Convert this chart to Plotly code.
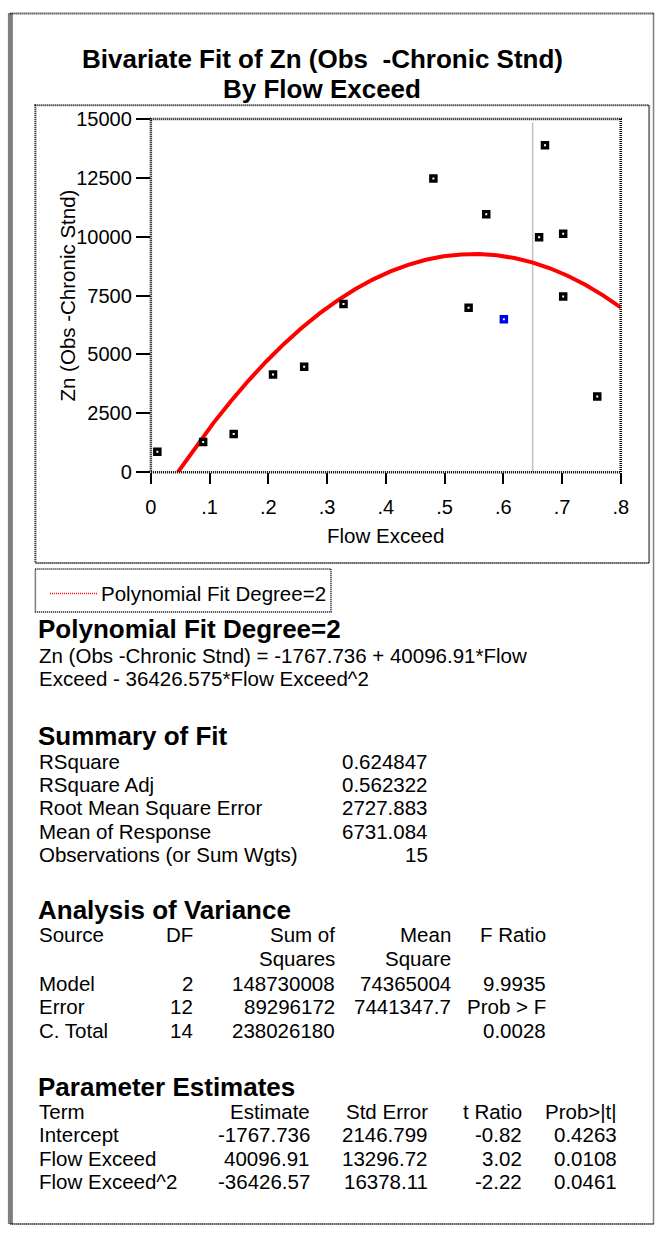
import numpy as np
import plotly.graph_objects as go

# ---------------- data ----------------
flow_exceed = [0.011, 0.089, 0.141, 0.208, 0.261, 0.328, 0.481, 0.541,
               0.571, 0.601, 0.661, 0.671, 0.702, 0.702, 0.760]
zn_obs = [870, 1280, 1620, 4150, 4480, 7140, 12470, 6980,
          10960, 6490, 9980, 13890, 10130, 7460, 3210]
highlight_index = 9          # the blue (selected) point
ref_line_x = 0.65            # grey vertical reference line

x_ticks = [0, 0.1, 0.2, 0.3, 0.4, 0.5, 0.6, 0.7, 0.8]
x_tick_labels = ["0", ".1", ".2", ".3", ".4", ".5", ".6", ".7", ".8"]
y_ticks = [0, 2500, 5000, 7500, 10000, 12500, 15000]
y_tick_labels = ["0", "2500", "5000", "7500", "10000", "12500", "15000"]

# polynomial fit coefficients (Parameter Estimates)
fit_coef = [-1767.736, 40096.91, -36426.575]
fit_x_start = 0.046
fit_x_end = 0.80

title_lines = ["Bivariate Fit of Zn (Obs\u00a0\u00a0-Chronic Stnd)", "By Flow Exceed"]
x_title = "Flow Exceed"
y_title = "Zn (Obs -Chronic Stnd)"
legend_label = "Polynomial Fit Degree=2"

poly_heading = "Polynomial Fit Degree=2"
poly_equation = ["Zn (Obs -Chronic Stnd) = -1767.736 + 40096.91*Flow",
                 "Exceed - 36426.575*Flow Exceed^2"]

summary_heading = "Summary of Fit"
summary_labels = ["RSquare", "RSquare Adj", "Root Mean Square Error",
                  "Mean of Response", "Observations (or Sum Wgts)"]
summary_values = ["0.624847", "0.562322", "2727.883", "6731.084", "15"]

anova_heading = "Analysis of Variance"
anova_header = [["Source", "DF", "Sum of", "Mean", "F Ratio"],
                ["", "", "Squares", "Square", ""]]
anova_rows = [["Model", "2", "148730008", "74365004", "9.9935"],
              ["Error", "12", "89296172", "7441347.7", "Prob > F"],
              ["C. Total", "14", "238026180", "", "0.0028"]]

param_heading = "Parameter Estimates"
param_header = ["Term", "Estimate", "Std Error", "t Ratio", "Prob>|t|"]
param_rows = [["Intercept", "-1767.736", "2146.799", "-0.82", "0.4263"],
              ["Flow Exceed", "40096.91", "13296.72", "3.02", "0.0108"],
              ["Flow Exceed^2", "-36426.57", "16378.11", "-2.22", "0.0461"]]

# ---------------- layout helpers ----------------
W, H = 663, 1236
FONT = "Liberation Sans, Arial, Helvetica, sans-serif"
REG = 20.5
BOLD = 26


def px(x):
    return x / W


def py(y):
    return 1 - y / H


annotations = []


def text(x, y, s, size=REG, anchor="left", bold=False, angle=0):
    annotations.append(dict(
        x=px(x), y=py(y), xref="paper", yref="paper", text=s, showarrow=False,
        xanchor=anchor, yanchor="middle", textangle=angle,
        font=dict(family=FONT, size=size, color="black",
                  weight="bold" if bold else "normal")))


# ---------------- traces ----------------
fit_x = np.linspace(fit_x_start, fit_x_end, 26)
fit_y = fit_coef[0] + fit_coef[1] * fit_x + fit_coef[2] * fit_x ** 2

colors = ["#0000ee" if i == highlight_index else "black" for i in range(len(flow_exceed))]

fig = go.Figure()
fig.add_trace(go.Scatter(x=fit_x, y=fit_y, mode="lines", name=legend_label,
                         line=dict(color="#ff0000", width=4), showlegend=False))
fig.add_trace(go.Scatter(x=flow_exceed, y=zn_obs, mode="markers", showlegend=False,
                         marker=dict(symbol="square", size=8.5, color=colors,
                                     line=dict(width=0))))
fig.add_trace(go.Scatter(x=flow_exceed, y=zn_obs, mode="markers", showlegend=False,
                         marker=dict(symbol="square", size=2, color="white",
                                     line=dict(width=0))))

# ---------------- plot geometry ----------------
plot_left, plot_right, plot_top, plot_bottom = 148, 628, 110, 469.5

axis_common = dict(showgrid=False, zeroline=False, showline=False, ticks="outside",
                   tickcolor="black", tickwidth=2,
                   tickfont=dict(family=FONT, size=20, color="black"))

fig.update_xaxes(range=[0, 0.8], domain=[px(plot_left), px(plot_right)],
                 tickvals=x_ticks, ticktext=x_tick_labels, ticklen=11,
                 ticklabelstandoff=6, **axis_common)
fig.update_yaxes(range=[0, 15000], domain=[py(plot_bottom), py(plot_top)],
                 tickvals=y_ticks, ticktext=y_tick_labels, ticklen=14, **axis_common)

dot = "1px,1px"
shapes = [
    # outer report border
    dict(type="line", xref="paper", yref="paper", x0=px(4.5), x1=px(4.5), y0=py(2.5), y1=py(1235),
         line=dict(color="black", width=5, dash=dot)),
    dict(type="line", xref="paper", yref="paper", x0=px(4.5), x1=px(662), y0=py(2.5), y1=py(2.5),
         line=dict(color="black", width=2, dash=dot)),
    dict(type="line", xref="paper", yref="paper", x0=px(4.5), x1=px(662), y0=py(1235), y1=py(1235),
         line=dict(color="black", width=2, dash=dot)),
    dict(type="line", xref="paper", yref="paper", x0=px(661.5), x1=px(661.5), y0=py(2.5), y1=py(1235),
         line=dict(color="black", width=1.5, dash=dot)),
    # plot box
    dict(type="rect", xref="paper", yref="paper", x0=px(30), x1=px(657), y0=py(96), y1=py(562),
         line=dict(color="black", width=2, dash=dot)),
    # legend box
    dict(type="rect", xref="paper", yref="paper", x0=px(30), x1=px(332), y0=py(568), y1=py(612),
         line=dict(color="black", width=1.5, dash=dot)),
    dict(type="line", xref="paper", yref="paper", x0=px(45), x1=px(93), y0=py(593), y1=py(593),
         line=dict(color="#ff0000", width=1.5, dash=dot)),
    # grey reference line
    dict(type="line", xref="x", yref="y domain", x0=ref_line_x, x1=ref_line_x, y0=0, y1=0.99,
         line=dict(color="#c0c0c0", width=1.5), layer="below"),
    # axis frame
    dict(type="rect", xref="x domain", yref="y domain", x0=0, x1=1, y0=0, y1=1,
         line=dict(color="black", width=2.5, dash=dot)),
]

# ---------------- text ----------------
text(323, 49, title_lines[0], BOLD, "center", True)
text(323, 79, title_lines[1], BOLD, "center", True)
text(388, 534, x_title, REG, "center")
text(63, 290, y_title, REG, "center", angle=-90)
text(95, 593, legend_label, REG, "left")

text(31, 629, poly_heading, BOLD, "left", True)
text(32, 656, poly_equation[0], REG, "left")
text(32, 680, poly_equation[1], REG, "left")

text(31, 738, summary_heading, BOLD, "left", True)
for i, (lab, val) in enumerate(zip(summary_labels, summary_values)):
    y = 764 + 23.7 * i
    text(32, y, lab, REG, "left")
    text(433, y, val, REG, "right")

anova_right = [193, 338, 457, 554]
text(31, 915, anova_heading, BOLD, "left", True)
rows = anova_header + anova_rows
row_y = [940.5, 965, 990, 1014, 1038]
for r, yy in zip(rows, row_y):
    if r[0]:
        text(32, yy, r[0], REG, "left")
    for c, xr in zip(r[1:], anova_right):
        if c:
            text(xr, yy, c, REG, "right")

param_right = [313, 433, 529, 626]
text(31, 1095, param_heading, BOLD, "left", True)
for r, yy in zip([param_header] + param_rows, [1120, 1144, 1168, 1192]):
    text(32, yy, r[0], REG, "left")
    for c, xr in zip(r[1:], param_right):
        text(xr, yy, c, REG, "right")

fig.update_layout(width=W, height=H, margin=dict(l=0, r=0, t=0, b=0),
                  paper_bgcolor="white", plot_bgcolor="white",
                  shapes=shapes, annotations=annotations, showlegend=False)

fig.write_html("out.html", config={"displayModeBar": False},
               post_script="document.body.style.margin='0';document.body.style.overflow='hidden';")
